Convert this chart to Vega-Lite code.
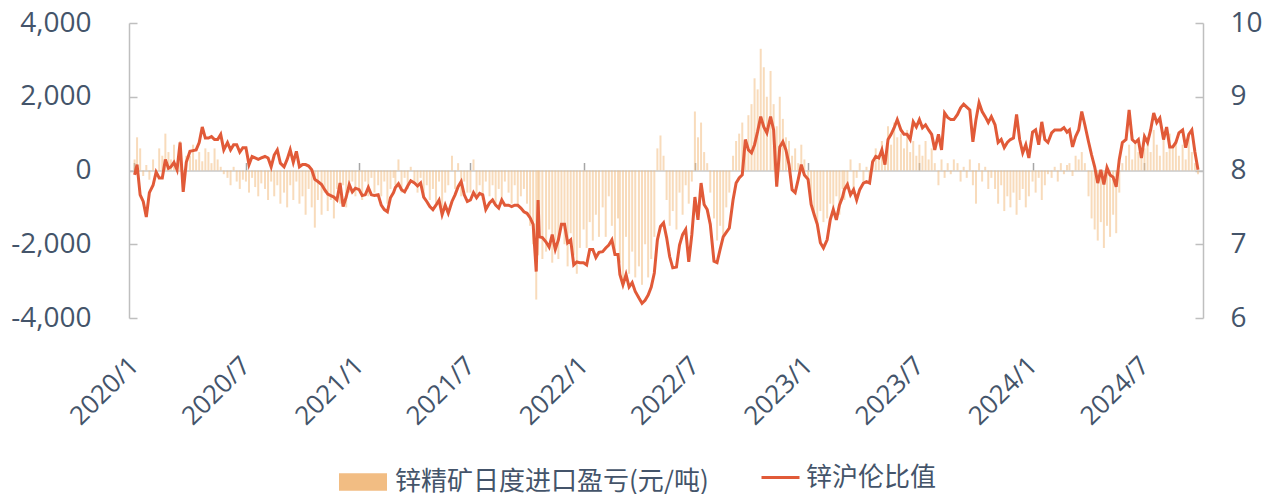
{
  "$schema": "https://vega.github.io/schema/vega-lite/v6.json",
  "width": 1074,
  "height": 295,
  "autosize": {"type": "none"},
  "padding": {"left": 129, "top": 23, "right": 69, "bottom": 176},
  "background": "#ffffff",
  "config": {
    "view": {"stroke": null},
    "axis": {"labelColor": "#44546A", "domainColor": "#BFBFBF", "tickColor": "#BFBFBF", "grid": false, "title": null, "labelFont": "Open Sans"},
    "legend": {"labelColor": "#44546A", "labelFont": "Noto Sans CJK SC", "labelFontSize": 26, "labelLimit": 500, "title": null}
  },
  "data": {"values": [
{"d":"2020-01-02","p":300,"r":7.94},{"d":"2020-01-06","p":900,"r":8.08},{"d":"2020-01-11","p":600,"r":7.67},{"d":"2020-01-16","p":-150,"r":7.58},{"d":"2020-01-21","p":150,"r":7.37},{"d":"2020-01-26","p":-250,"r":7.70},
{"d":"2020-02-01","p":300,"r":7.80},{"d":"2020-02-06","p":-150,"r":7.98},{"d":"2020-02-11","p":600,"r":7.90},{"d":"2020-02-16","p":400,"r":7.90},{"d":"2020-02-21","p":1000,"r":8.15},{"d":"2020-02-26","p":500,"r":8.03},
{"d":"2020-03-01","p":300,"r":8.05},{"d":"2020-03-06","p":700,"r":8.11},{"d":"2020-03-11","p":200,"r":8.01},{"d":"2020-03-16","p":800,"r":8.38},{"d":"2020-03-21","p":-300,"r":7.71},{"d":"2020-03-26","p":400,"r":8.11},
{"d":"2020-04-01","p":400,"r":8.26},{"d":"2020-04-06","p":700,"r":8.27},{"d":"2020-04-11","p":300,"r":8.28},{"d":"2020-04-16","p":500,"r":8.38},{"d":"2020-04-21","p":250,"r":8.59},{"d":"2020-04-26","p":600,"r":8.44},
{"d":"2020-05-01","p":500,"r":8.44},{"d":"2020-05-06","p":200,"r":8.46},{"d":"2020-05-11","p":600,"r":8.42},{"d":"2020-05-16","p":300,"r":8.42},{"d":"2020-05-21","p":100,"r":8.49},{"d":"2020-05-26","p":-100,"r":8.28},
{"d":"2020-06-01","p":-200,"r":8.38},{"d":"2020-06-06","p":-400,"r":8.28},{"d":"2020-06-11","p":100,"r":8.35},{"d":"2020-06-16","p":-300,"r":8.35},{"d":"2020-06-21","p":-500,"r":8.25},{"d":"2020-06-26","p":-250,"r":8.31},
{"d":"2020-07-01","p":-300,"r":8.31},{"d":"2020-07-06","p":-600,"r":8.08},{"d":"2020-07-11","p":-200,"r":8.19},{"d":"2020-07-16","p":-450,"r":8.17},{"d":"2020-07-21","p":-700,"r":8.15},{"d":"2020-07-26","p":-350,"r":8.17},
{"d":"2020-08-01","p":-500,"r":8.19},{"d":"2020-08-06","p":-800,"r":8.17},{"d":"2020-08-11","p":-300,"r":8.05},{"d":"2020-08-16","p":-700,"r":8.21},{"d":"2020-08-21","p":-400,"r":8.28},{"d":"2020-08-26","p":-900,"r":8.10},
{"d":"2020-09-01","p":-600,"r":8.05},{"d":"2020-09-06","p":-1000,"r":8.15},{"d":"2020-09-11","p":-400,"r":8.28},{"d":"2020-09-16","p":-800,"r":8.11},{"d":"2020-09-21","p":-300,"r":8.26},{"d":"2020-09-26","p":-900,"r":8.05},
{"d":"2020-10-01","p":-700,"r":8.08},{"d":"2020-10-06","p":-1200,"r":8.08},{"d":"2020-10-11","p":-500,"r":8.06},{"d":"2020-10-16","p":-1000,"r":8.01},{"d":"2020-10-21","p":-1550,"r":7.88},{"d":"2020-10-26","p":-800,"r":7.85},
{"d":"2020-11-01","p":-1200,"r":7.81},{"d":"2020-11-06","p":-600,"r":7.74},{"d":"2020-11-11","p":-1100,"r":7.68},{"d":"2020-11-16","p":-800,"r":7.66},{"d":"2020-11-21","p":-1300,"r":7.64},{"d":"2020-11-26","p":-500,"r":7.60},
{"d":"2020-12-01","p":-900,"r":7.83},{"d":"2020-12-06","p":-400,"r":7.51},{"d":"2020-12-11","p":-1000,"r":7.64},{"d":"2020-12-16","p":-600,"r":7.81},{"d":"2020-12-21","p":-300,"r":7.71},{"d":"2020-12-26","p":-700,"r":7.76},
{"d":"2021-01-01","p":-500,"r":7.74},{"d":"2021-01-06","p":-800,"r":7.66},{"d":"2021-01-11","p":-300,"r":7.67},{"d":"2021-01-16","p":-700,"r":7.77},{"d":"2021-01-21","p":-200,"r":7.67},{"d":"2021-01-26","p":-600,"r":7.66},
{"d":"2021-02-01","p":-400,"r":7.67},{"d":"2021-02-06","p":-700,"r":7.53},{"d":"2021-02-11","p":-300,"r":7.47},{"d":"2021-02-16","p":-900,"r":7.44},{"d":"2021-02-21","p":-500,"r":7.63},{"d":"2021-02-26","p":-200,"r":7.70},
{"d":"2021-03-01","p":-400,"r":7.77},{"d":"2021-03-06","p":300,"r":7.82},{"d":"2021-03-11","p":-600,"r":7.74},{"d":"2021-03-16","p":-200,"r":7.71},{"d":"2021-03-21","p":-500,"r":7.79},{"d":"2021-03-26","p":100,"r":7.86},
{"d":"2021-04-01","p":-300,"r":7.83},{"d":"2021-04-06","p":-600,"r":7.79},{"d":"2021-04-11","p":-200,"r":7.83},{"d":"2021-04-16","p":-700,"r":7.64},{"d":"2021-04-21","p":-400,"r":7.58},{"d":"2021-04-26","p":-800,"r":7.51},
{"d":"2021-05-01","p":-500,"r":7.47},{"d":"2021-05-06","p":-900,"r":7.53},{"d":"2021-05-11","p":-300,"r":7.60},{"d":"2021-05-16","p":-1000,"r":7.40},{"d":"2021-05-21","p":-600,"r":7.53},{"d":"2021-05-26","p":-400,"r":7.42},
{"d":"2021-06-01","p":400,"r":7.58},{"d":"2021-06-06","p":-500,"r":7.67},{"d":"2021-06-11","p":200,"r":7.78},{"d":"2021-06-16","p":-700,"r":7.85},{"d":"2021-06-21","p":-300,"r":7.67},{"d":"2021-06-26","p":-600,"r":7.58},
{"d":"2021-07-01","p":-600,"r":7.60},{"d":"2021-07-06","p":300,"r":7.70},{"d":"2021-07-11","p":-700,"r":7.63},{"d":"2021-07-16","p":-400,"r":7.69},{"d":"2021-07-21","p":-800,"r":7.67},{"d":"2021-07-26","p":-300,"r":7.47},
{"d":"2021-08-01","p":-700,"r":7.56},{"d":"2021-08-06","p":-400,"r":7.60},{"d":"2021-08-11","p":-900,"r":7.53},{"d":"2021-08-16","p":-500,"r":7.49},{"d":"2021-08-21","p":-800,"r":7.60},{"d":"2021-08-26","p":-300,"r":7.53},
{"d":"2021-09-01","p":-600,"r":7.53},{"d":"2021-09-06","p":-900,"r":7.51},{"d":"2021-09-11","p":-400,"r":7.53},{"d":"2021-09-16","p":-1000,"r":7.53},{"d":"2021-09-21","p":-700,"r":7.49},{"d":"2021-09-26","p":-500,"r":7.44},
{"d":"2021-10-01","p":-900,"r":7.42},{"d":"2021-10-06","p":-1500,"r":7.36},{"d":"2021-10-11","p":-2000,"r":7.27},{"d":"2021-10-16","p":-3500,"r":6.63},{"d":"2021-10-19","p":-2300,"r":7.60},{"d":"2021-10-21","p":-1800,"r":7.10},{"d":"2021-10-26","p":-2400,"r":7.09},
{"d":"2021-11-01","p":-2200,"r":7.03},{"d":"2021-11-06","p":-1600,"r":6.96},{"d":"2021-11-11","p":-2500,"r":7.13},{"d":"2021-11-16","p":-1900,"r":6.93},{"d":"2021-11-21","p":-2400,"r":7.06},{"d":"2021-11-26","p":-1500,"r":7.27},
{"d":"2021-12-01","p":-2000,"r":7.27},{"d":"2021-12-06","p":-2600,"r":7.02},{"d":"2021-12-11","p":-1700,"r":7.06},{"d":"2021-12-16","p":-2300,"r":6.72},{"d":"2021-12-21","p":-2800,"r":6.76},{"d":"2021-12-26","p":-2100,"r":6.75},
{"d":"2022-01-01","p":-1600,"r":6.75},{"d":"2022-01-06","p":-2100,"r":6.72},{"d":"2022-01-11","p":-1400,"r":6.93},{"d":"2022-01-16","p":-1900,"r":6.93},{"d":"2022-01-21","p":-1200,"r":6.82},{"d":"2022-01-26","p":-1800,"r":6.89},
{"d":"2022-02-01","p":-1000,"r":6.90},{"d":"2022-02-06","p":-1800,"r":6.95},{"d":"2022-02-11","p":-700,"r":6.99},{"d":"2022-02-16","p":-1500,"r":7.06},{"d":"2022-02-21","p":-2200,"r":6.86},{"d":"2022-02-26","p":-1300,"r":6.86},
{"d":"2022-03-01","p":-2500,"r":6.59},{"d":"2022-03-06","p":-3000,"r":6.45},{"d":"2022-03-11","p":-1800,"r":6.59},{"d":"2022-03-16","p":-2800,"r":6.42},{"d":"2022-03-21","p":-2200,"r":6.48},{"d":"2022-03-26","p":-2900,"r":6.36},
{"d":"2022-04-01","p":-2600,"r":6.27},{"d":"2022-04-06","p":-3100,"r":6.20},{"d":"2022-04-11","p":-2000,"r":6.24},{"d":"2022-04-16","p":-2900,"r":6.31},{"d":"2022-04-21","p":-2400,"r":6.42},{"d":"2022-04-26","p":-1800,"r":6.61},
{"d":"2022-05-01","p":600,"r":7.06},{"d":"2022-05-06","p":950,"r":7.24},{"d":"2022-05-11","p":400,"r":7.29},{"d":"2022-05-16","p":-800,"r":7.09},{"d":"2022-05-21","p":-1500,"r":6.83},{"d":"2022-05-26","p":-1100,"r":6.68},
{"d":"2022-06-01","p":-1600,"r":6.69},{"d":"2022-06-06","p":-600,"r":6.99},{"d":"2022-06-11","p":-1200,"r":7.13},{"d":"2022-06-16","p":-400,"r":7.20},{"d":"2022-06-21","p":-900,"r":6.76},{"d":"2022-06-26","p":-300,"r":7.13},
{"d":"2022-07-01","p":1600,"r":7.64},{"d":"2022-07-06","p":900,"r":7.33},{"d":"2022-07-11","p":1300,"r":7.83},{"d":"2022-07-16","p":500,"r":7.54},{"d":"2022-07-21","p":200,"r":7.47},{"d":"2022-07-26","p":-600,"r":7.27},
{"d":"2022-08-01","p":-1300,"r":6.77},{"d":"2022-08-06","p":-1900,"r":6.75},{"d":"2022-08-11","p":-1500,"r":6.93},{"d":"2022-08-16","p":-1800,"r":7.10},{"d":"2022-08-21","p":-1000,"r":7.16},{"d":"2022-08-26","p":-600,"r":7.22},
{"d":"2022-09-01","p":400,"r":7.60},{"d":"2022-09-06","p":800,"r":7.83},{"d":"2022-09-11","p":1000,"r":7.90},{"d":"2022-09-16","p":1300,"r":7.94},{"d":"2022-09-21","p":600,"r":8.42},{"d":"2022-09-26","p":1500,"r":8.28},
{"d":"2022-10-01","p":1800,"r":8.24},{"d":"2022-10-06","p":2500,"r":8.35},{"d":"2022-10-11","p":2200,"r":8.53},{"d":"2022-10-16","p":3300,"r":8.73},{"d":"2022-10-21","p":2800,"r":8.59},{"d":"2022-10-26","p":2000,"r":8.51},
{"d":"2022-11-01","p":2700,"r":8.73},{"d":"2022-11-06","p":1800,"r":8.55},{"d":"2022-11-11","p":1200,"r":7.78},{"d":"2022-11-16","p":2000,"r":8.32},{"d":"2022-11-21","p":1400,"r":8.39},{"d":"2022-11-26","p":900,"r":8.28},
{"d":"2022-12-01","p":800,"r":8.08},{"d":"2022-12-06","p":400,"r":7.74},{"d":"2022-12-11","p":600,"r":7.70},{"d":"2022-12-16","p":200,"r":7.88},{"d":"2022-12-21","p":700,"r":8.08},{"d":"2022-12-26","p":300,"r":7.94},
{"d":"2023-01-01","p":-300,"r":7.88},{"d":"2023-01-06","p":-900,"r":7.54},{"d":"2023-01-11","p":-1200,"r":7.40},{"d":"2023-01-16","p":-1500,"r":7.27},{"d":"2023-01-21","p":-1100,"r":7.02},{"d":"2023-01-26","p":-1400,"r":6.95},
{"d":"2023-02-01","p":-1300,"r":7.06},{"d":"2023-02-06","p":-900,"r":7.33},{"d":"2023-02-11","p":-1100,"r":7.47},{"d":"2023-02-16","p":-700,"r":7.33},{"d":"2023-02-21","p":-1200,"r":7.53},{"d":"2023-02-26","p":-500,"r":7.64},
{"d":"2023-03-01","p":-800,"r":7.74},{"d":"2023-03-06","p":-400,"r":7.81},{"d":"2023-03-11","p":300,"r":7.67},{"d":"2023-03-16","p":-600,"r":7.74},{"d":"2023-03-21","p":-200,"r":7.60},{"d":"2023-03-26","p":200,"r":7.74},
{"d":"2023-04-01","p":-300,"r":7.83},{"d":"2023-04-06","p":100,"r":7.85},{"d":"2023-04-11","p":-200,"r":7.83},{"d":"2023-04-16","p":300,"r":8.12},{"d":"2023-04-21","p":600,"r":8.19},{"d":"2023-04-26","p":400,"r":8.17},
{"d":"2023-05-01","p":800,"r":8.28},{"d":"2023-05-06","p":400,"r":8.08},{"d":"2023-05-11","p":1200,"r":8.42},{"d":"2023-05-16","p":700,"r":8.49},{"d":"2023-05-21","p":1300,"r":8.58},{"d":"2023-05-26","p":900,"r":8.69},
{"d":"2023-06-01","p":1000,"r":8.55},{"d":"2023-06-06","p":600,"r":8.49},{"d":"2023-06-11","p":1100,"r":8.49},{"d":"2023-06-16","p":500,"r":8.42},{"d":"2023-06-21","p":800,"r":8.66},{"d":"2023-06-26","p":400,"r":8.59},
{"d":"2023-07-01","p":700,"r":8.69},{"d":"2023-07-06","p":400,"r":8.58},{"d":"2023-07-11","p":800,"r":8.62},{"d":"2023-07-16","p":300,"r":8.55},{"d":"2023-07-21","p":600,"r":8.49},{"d":"2023-07-26","p":200,"r":8.28},
{"d":"2023-08-01","p":-400,"r":8.49},{"d":"2023-08-06","p":300,"r":8.28},{"d":"2023-08-11","p":-200,"r":8.78},{"d":"2023-08-16","p":200,"r":8.72},{"d":"2023-08-21","p":-100,"r":8.69},{"d":"2023-08-26","p":300,"r":8.69},
{"d":"2023-09-01","p":200,"r":8.76},{"d":"2023-09-06","p":-300,"r":8.85},{"d":"2023-09-11","p":100,"r":8.90},{"d":"2023-09-16","p":-200,"r":8.86},{"d":"2023-09-21","p":300,"r":8.82},{"d":"2023-09-26","p":-400,"r":8.39},
{"d":"2023-10-01","p":-900,"r":8.69},{"d":"2023-10-06","p":200,"r":8.92},{"d":"2023-10-11","p":-300,"r":8.80},{"d":"2023-10-16","p":100,"r":8.73},{"d":"2023-10-21","p":-500,"r":8.65},{"d":"2023-10-26","p":-200,"r":8.73},
{"d":"2023-11-01","p":-500,"r":8.62},{"d":"2023-11-06","p":-900,"r":8.38},{"d":"2023-11-11","p":-400,"r":8.42},{"d":"2023-11-16","p":-1100,"r":8.31},{"d":"2023-11-21","p":-700,"r":8.38},{"d":"2023-11-26","p":-1000,"r":8.42},
{"d":"2023-12-01","p":-600,"r":8.44},{"d":"2023-12-06","p":-1200,"r":8.76},{"d":"2023-12-11","p":-800,"r":8.42},{"d":"2023-12-16","p":-500,"r":8.24},{"d":"2023-12-21","p":-1000,"r":8.35},{"d":"2023-12-26","p":-700,"r":8.17},
{"d":"2024-01-01","p":-300,"r":8.52},{"d":"2024-01-06","p":-600,"r":8.55},{"d":"2024-01-11","p":-200,"r":8.35},{"d":"2024-01-16","p":-800,"r":8.66},{"d":"2024-01-21","p":-400,"r":8.42},{"d":"2024-01-26","p":-100,"r":8.38},
{"d":"2024-02-01","p":-200,"r":8.51},{"d":"2024-02-06","p":100,"r":8.55},{"d":"2024-02-11","p":-300,"r":8.55},{"d":"2024-02-16","p":200,"r":8.55},{"d":"2024-02-21","p":-100,"r":8.58},{"d":"2024-02-26","p":150,"r":8.52},
{"d":"2024-03-01","p":200,"r":8.55},{"d":"2024-03-06","p":-150,"r":8.32},{"d":"2024-03-11","p":400,"r":8.46},{"d":"2024-03-16","p":300,"r":8.55},{"d":"2024-03-21","p":500,"r":8.80},{"d":"2024-03-26","p":200,"r":8.62},
{"d":"2024-04-01","p":-700,"r":8.39},{"d":"2024-04-06","p":-1300,"r":8.21},{"d":"2024-04-11","p":-1600,"r":8.05},{"d":"2024-04-16","p":-1900,"r":7.83},{"d":"2024-04-21","p":-1400,"r":8.01},{"d":"2024-04-26","p":-2100,"r":7.81},
{"d":"2024-05-01","p":-1500,"r":8.04},{"d":"2024-05-06","p":-1800,"r":7.94},{"d":"2024-05-11","p":-1200,"r":7.91},{"d":"2024-05-16","p":-1700,"r":7.78},{"d":"2024-05-21","p":-600,"r":8.15},{"d":"2024-05-26","p":200,"r":8.38},
{"d":"2024-06-01","p":400,"r":8.42},{"d":"2024-06-06","p":700,"r":8.82},{"d":"2024-06-11","p":300,"r":8.42},{"d":"2024-06-16","p":800,"r":8.38},{"d":"2024-06-21","p":500,"r":8.42},{"d":"2024-06-26","p":600,"r":8.17},
{"d":"2024-07-01","p":600,"r":8.46},{"d":"2024-07-06","p":900,"r":8.38},{"d":"2024-07-11","p":500,"r":8.55},{"d":"2024-07-16","p":1100,"r":8.78},{"d":"2024-07-21","p":700,"r":8.65},{"d":"2024-07-26","p":400,"r":8.71},
{"d":"2024-08-01","p":900,"r":8.42},{"d":"2024-08-06","p":500,"r":8.59},{"d":"2024-08-11","p":1000,"r":8.32},{"d":"2024-08-16","p":600,"r":8.32},{"d":"2024-08-21","p":800,"r":8.38},{"d":"2024-08-26","p":400,"r":8.51},
{"d":"2024-09-01","p":700,"r":8.55},{"d":"2024-09-06","p":300,"r":8.31},{"d":"2024-09-11","p":900,"r":8.49},{"d":"2024-09-16","p":500,"r":8.55},{"d":"2024-09-21","p":200,"r":8.25},{"d":"2024-09-26","p":-100,"r":8.01}
  ]},
  "resolve": {"scale": {"y": "independent"}, "axis": {"x": "independent", "y": "independent"}},
  "layer": [
    {
      "mark": {"type": "bar", "width": 2, "opacity": 0.55},
      "encoding": {
        "x": {
          "field": "d", "type": "temporal",
          "scale": {"type": "utc", "domain": [{"year": 2020, "month": 1, "date": 1, "utc": true}, {"year": 2024, "month": 9, "date": 26, "utc": true}]},
          "axis": {
            "orient": "bottom", "domain": false, "ticks": false,
            "values": [{"year":2020,"month":1,"date":1,"utc":true},{"year":2020,"month":7,"date":1,"utc":true},{"year":2021,"month":1,"date":1,"utc":true},{"year":2021,"month":7,"date":1,"utc":true},{"year":2022,"month":1,"date":1,"utc":true},{"year":2022,"month":7,"date":1,"utc":true},{"year":2023,"month":1,"date":1,"utc":true},{"year":2023,"month":7,"date":1,"utc":true},{"year":2024,"month":1,"date":1,"utc":true},{"year":2024,"month":7,"date":1,"utc":true}],
            "labelExpr": "utcFormat(datum.value, '%Y') + '/' + (utcmonth(datum.value) + 1)",
            "labelAngle": -45, "labelAlign": "right", "labelBaseline": "middle",
            "labelFontSize": 26, "labelPadding": 43
          }
        },
        "y": {
          "field": "p", "type": "quantitative",
          "scale": {"domain": [-4000, 4000]},
          "axis": {"orient": "left", "values": [-4000, -2000, 0, 2000, 4000], "labelExpr": "replace(format(datum.value, ','), '−', '-')", "tickSize": -8, "labelPadding": 46, "labelFontSize": 28, "domainWidth": 1.5, "tickWidth": 1.5}
        },
        "fill": {
          "datum": "锌精矿日度进口盈亏(元/吨)",
          "scale": {"range": ["#F2BD83"]},
          "legend": {"orient": "none", "legendX": 209, "legendY": 434, "symbolType": "M-1,-0.36H1V0.36H-1Z", "symbolSize": 2304, "symbolOpacity": 1, "labelOffset": 7}
        }
      }
    },
    {
      "mark": {"type": "line", "color": "#E15A38", "strokeWidth": 3},
      "encoding": {
        "x": {
          "field": "d", "type": "temporal",
          "axis": {
            "orient": "top", "offset": -147.5, "labels": false, "tickSize": 8, "domainColor": "#C8C8C8", "domainWidth": 1.5, "tickColor": "#A6A6A6", "tickWidth": 1.5,
            "values": [{"year":2020,"month":1,"date":1,"utc":true},{"year":2020,"month":7,"date":1,"utc":true},{"year":2021,"month":1,"date":1,"utc":true},{"year":2021,"month":7,"date":1,"utc":true},{"year":2022,"month":1,"date":1,"utc":true},{"year":2022,"month":7,"date":1,"utc":true},{"year":2023,"month":1,"date":1,"utc":true},{"year":2023,"month":7,"date":1,"utc":true},{"year":2024,"month":1,"date":1,"utc":true},{"year":2024,"month":7,"date":1,"utc":true}]
          }
        },
        "y": {
          "field": "r", "type": "quantitative",
          "scale": {"domain": [6, 10]},
          "axis": {"orient": "right", "values": [6, 7, 8, 9, 10], "tickSize": -8, "labelPadding": 35, "labelFontSize": 28, "domainWidth": 1.5, "tickWidth": 1.5}
        },
        "stroke": {
          "datum": "锌沪伦比值",
          "scale": {"range": ["#E15A38"]},
          "legend": {"orient": "none", "legendX": 631, "legendY": 434, "symbolType": "stroke", "symbolSize": 1444, "symbolStrokeWidth": 3, "labelOffset": 5}
        }
      }
    }
  ]
}
